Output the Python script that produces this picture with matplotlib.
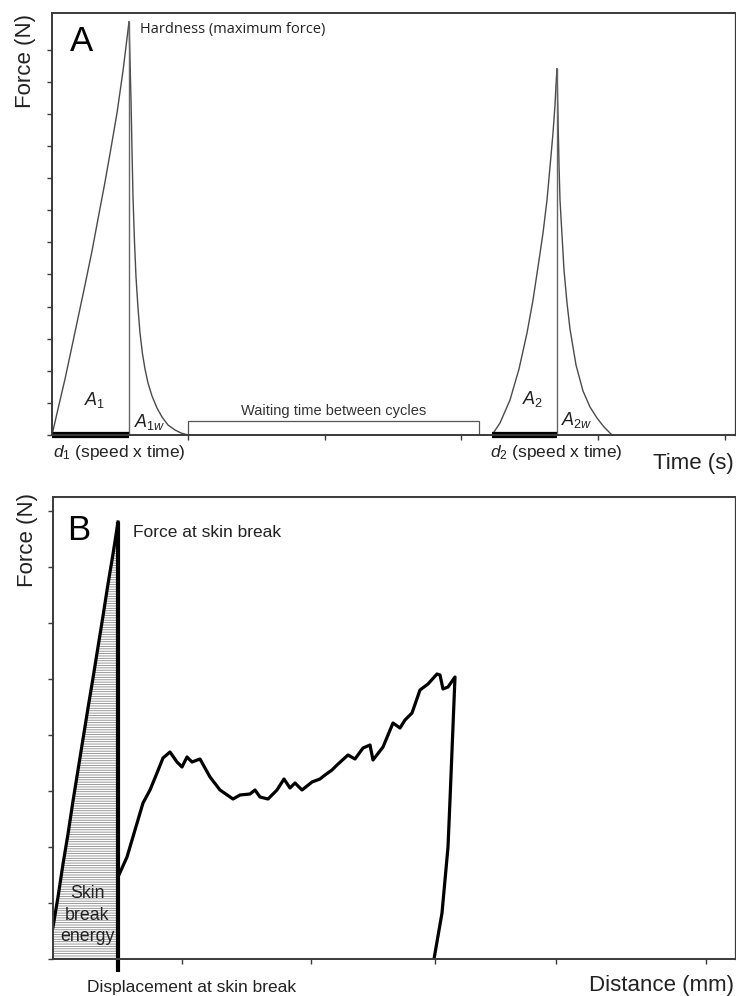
import matplotlib
matplotlib.use("Agg")
import matplotlib.pyplot as plt
from matplotlib.patches import Rectangle

plt.rcParams["font.family"] = ["Liberation Sans", "DejaVu Sans"]
plt.rcParams["mathtext.fontset"] = "custom"
plt.rcParams["mathtext.rm"] = "Liberation Sans"
plt.rcParams["mathtext.it"] = "Liberation Sans:italic"
plt.rcParams["hatch.linewidth"] = 0.6
plt.rcParams["hatch.color"] = "#8a8a8a"

# ---- Panel A: two compression cycles (time, force) ----
rise1_t = [0, 0.6, 1.3, 1.9, 2.6, 3.3, 4.0, 4.6, 5.3, 5.9, 6.5, 7.1, 7.7]
rise1_f = [0, 2.6, 5.6, 8.4, 11.7, 15.0, 18.4, 21.6, 25.3, 28.7, 32.2, 36.4, 41.3]
decay1_t = [7.7, 7.8, 7.9, 8.0, 8.1, 8.25, 8.4, 8.6, 8.8, 9.05, 9.3, 9.6, 10.0,
            10.5, 11.0, 11.6, 12.3, 12.9, 13.6]
decay1_f = [41.3, 37.5, 33.5, 28.5, 23.8, 19.3, 15.8, 12.7, 10.2, 8.1, 6.6, 5.2, 3.9,
            2.7, 1.8, 1.0, 0.5, 0.2, 0.0]
rise2_t = [44.0, 44.8, 45.8, 46.7, 47.5, 48.1, 48.6, 49.1, 49.5, 49.8, 50.1, 50.3, 50.4, 50.5]
rise2_f = [0, 1.2, 3.5, 6.6, 10.2, 13.5, 16.8, 20.2, 23.5, 26.8, 30.2, 33.0, 35.0, 36.6]
decay2_t = [50.5, 50.6, 50.7, 50.8, 51.0, 51.2, 51.5, 51.8, 52.4, 53.1, 53.8, 54.5, 55.2, 56.0]
decay2_f = [36.6, 31.8, 27.0, 23.5, 20.0, 16.5, 13.2, 10.6, 7.0, 4.4, 2.8, 1.7, 0.8, 0.0]
wait_start, wait_end, wait_height = 13.6, 42.7, 1.4
a_xticks = [13.6, 27.3, 40.9, 54.6, 67.3]
a_yticks = [0, 3.21, 6.42, 9.63, 12.84, 16.05, 19.26, 22.47, 25.68, 28.89, 32.1, 35.31, 38.52]

# ---- Panel B: puncture test (distance, force) ----
pre_d = [0.0, 0.5, 1.0, 1.5, 2.0, 2.5, 3.0, 3.5, 4.0, 4.5, 5.0, 5.5, 6.0, 6.5]
pre_f = [3.2, 6.2, 9.5, 12.5, 15.8, 18.9, 22.0, 25.1, 28.1, 31.2, 34.3, 37.5, 40.5, 43.7]
post_d = [6.5, 7.4, 8.2, 9.0, 9.7, 10.4, 11.0, 11.7, 12.4, 12.9, 13.4, 13.9, 14.7,
          15.7, 16.7, 18.0, 18.7, 19.7, 20.2, 20.7, 21.5, 22.4, 23.1, 23.7, 24.2,
          24.9, 25.9, 26.7, 27.2, 27.9, 28.4, 29.5, 30.2, 31.0, 31.7, 32.0, 33.0,
          34.0, 34.7, 35.2, 35.9, 36.7, 37.5, 38.4, 38.7, 39.0, 39.5, 40.2, 39.7,
          39.5, 38.9, 38.1]
post_f = [8.2, 10.2, 12.9, 15.6, 16.9, 18.6, 20.1, 20.7, 19.7, 19.2, 20.2, 19.7, 20.0,
          18.2, 16.9, 16.0, 16.4, 16.5, 16.9, 16.2, 16.0, 16.9, 18.0, 17.1, 17.6,
          16.9, 17.7, 18.0, 18.4, 18.9, 19.4, 20.4, 20.0, 21.1, 21.4, 19.9, 21.2,
          23.6, 23.1, 23.9, 24.6, 26.9, 27.5, 28.5, 28.4, 27.0, 27.2, 28.2, 15.9,
          11.2, 4.6, 0.0]
b_xticks = [12.9, 25.8, 38.2, 50.3, 65.3]
b_yticks = [0, 5.6, 11.2, 16.8, 22.4, 28.0, 33.6, 39.2, 44.8]

fig = plt.figure(figsize=(7.36, 9.96), dpi=100)
ax_a = fig.add_axes([52 / 736, 1 - 435 / 996, 683 / 736, 422 / 996])
ax_b = fig.add_axes([53 / 736, 1 - 959 / 996, 682 / 736, 462 / 996])

spine_col = "#3a3a3a"
for ax in (ax_a, ax_b):
    for s in ax.spines.values():
        s.set_color(spine_col)
        s.set_linewidth(1.4)
    ax.spines["right"].set_linewidth(0.9)
    ax.tick_params(axis="both", direction="out", length=3.5, width=1.0,
                   color=spine_col, labelbottom=False, labelleft=False)

# Panel A
ax_a.set_xlim(0, 68.3)
ax_a.set_ylim(0, 42.2)
ax_a.set_xticks(a_xticks)
ax_a.set_yticks(a_yticks)
curve_col = "#4a4a4a"
for tt, ff in ((rise1_t, rise1_f), (decay1_t, decay1_f),
               (rise2_t, rise2_f), (decay2_t, decay2_f)):
    ax_a.plot(tt, ff, color=curve_col, lw=1.0, solid_joinstyle="round")
ax_a.plot([rise1_t[-1], rise1_t[-1]], [0, rise1_f[-1]], color="#666666", lw=1.0)
ax_a.plot([rise2_t[-1], rise2_t[-1]], [0, rise2_f[-1]], color="#666666", lw=1.0)
ax_a.plot([rise1_t[0], rise1_t[-1]], [0, 0], color="black", lw=4.5,
          solid_capstyle="butt", clip_on=False)
ax_a.plot([rise2_t[0], rise2_t[-1]], [0, 0], color="black", lw=4.5,
          solid_capstyle="butt", clip_on=False)
ax_a.add_patch(Rectangle((wait_start, 0), wait_end - wait_start, wait_height,
                         fill=False, edgecolor="#555555", lw=0.9))

ax_a.text(3.0, 39.3, "A", fontsize=25, ha="center", va="center")
ax_a.text(8.8, 40.5, "Hardness (maximum force)", fontsize=10.5, ha="left",
          va="center", family=["Open Sans", "DejaVu Sans"], color="#222222")
ax_a.text(4.3, 3.5, r"$A_{1}$", fontsize=13, ha="center", va="center", color="#222222")
ax_a.text(9.8, 1.3, r"$A_{1w}$", fontsize=13, ha="center", va="center", color="#222222")
ax_a.text(48.1, 3.6, r"$A_{2}$", fontsize=13, ha="center", va="center", color="#222222")
ax_a.text(52.5, 1.5, r"$A_{2w}$", fontsize=13, ha="center", va="center", color="#222222")
ax_a.text((wait_start + wait_end) / 2, 2.4, "Waiting time between cycles",
          fontsize=10.5, ha="center", va="center", color="#333333")
ax_a.text(0.1, -1.7, r"$d_{1}$ (speed x time)", fontsize=12.5, ha="left",
          va="center", clip_on=False, color="#222222")
ax_a.text(43.8, -1.7, r"$d_{2}$ (speed x time)", fontsize=12.5, ha="left",
          va="center", clip_on=False, color="#222222")
ax_a.text(68.2, -2.9, "Time (s)", fontsize=16, ha="right", va="center",
          clip_on=False, color="#222222")
fig.text(26 / 736, 1 - 61 / 996, "Force (N)", fontsize=16, rotation=90,
         ha="center", va="center", color="#222222")

# Panel B
ax_b.set_xlim(0, 68.2)
ax_b.set_ylim(0, 46.2)
ax_b.set_xticks(b_xticks)
ax_b.set_yticks(b_yticks)
ax_b.fill_between(pre_d, pre_f, 0, facecolor="white", edgecolor="#8a8a8a",
                  hatch="-------", linewidth=0)
ax_b.plot(pre_d, pre_f, color="black", lw=2.3, solid_joinstyle="round")
ax_b.plot(post_d, post_f, color="black", lw=2.3, solid_joinstyle="round")
ax_b.plot([pre_d[-1], pre_d[-1]], [-1.3, pre_f[-1]], color="black", lw=3.0,
          clip_on=False, solid_capstyle="butt")

ax_b.text(2.6, 42.9, "B", fontsize=25, ha="center", va="center")
ax_b.text(8.0, 42.7, "Force at skin break", fontsize=12.5, ha="left",
          va="center", color="#222222")
ax_b.text(3.4, 4.4, "Skin\nbreak\nenergy", fontsize=12.8, ha="center",
          va="center", linespacing=1.35, color="#222222")
ax_b.text(3.4, -2.8, "Displacement at skin break", fontsize=12.5, ha="left",
          va="center", clip_on=False, color="#222222")
ax_b.text(68.1, -2.6, "Distance (mm)", fontsize=16, ha="right", va="center",
          clip_on=False, color="#222222")
fig.text(28 / 736, 1 - 540 / 996, "Force (N)", fontsize=16, rotation=90,
         ha="center", va="center", color="#222222")

fig.savefig("out.png", dpi=100, facecolor="white")
